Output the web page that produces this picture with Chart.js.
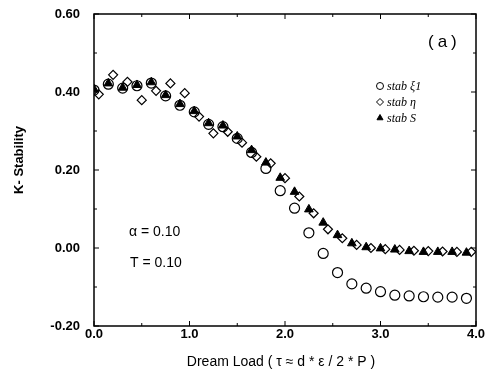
<!DOCTYPE html>
<html>
<head>
<meta charset="utf-8">
<script src="https://cdn.jsdelivr.net/npm/chart.js@4.4.0/dist/chart.umd.min.js"></script>
<style>
html, body { margin: 0; padding: 0; background: #fff; }
</style>
</head>
<body>
<canvas id="myChart" width="487" height="379"></canvas>
<script>
// dream load values (xi1 and S share x, eta sits a bit to the right)
const loadA = [0.00, 0.15, 0.30, 0.45, 0.60, 0.75, 0.90, 1.05, 1.20, 1.35, 1.50, 1.65, 1.80, 1.95,
               2.10, 2.25, 2.40, 2.55, 2.70, 2.85, 3.00, 3.15, 3.30, 3.45, 3.60, 3.75, 3.90];
const loadB = [0.05, 0.20, 0.35, 0.50, 0.65, 0.80, 0.95, 1.10, 1.25, 1.40, 1.55, 1.70, 1.85, 2.00,
               2.15, 2.30, 2.45, 2.60, 2.75, 2.90, 3.05, 3.20, 3.35, 3.50, 3.65, 3.80, 3.95];

const stabXi = [0.405, 0.420, 0.410, 0.416, 0.423, 0.390, 0.366, 0.349, 0.317, 0.311, 0.281, 0.245, 0.204, 0.147,
                0.102, 0.039, -0.014, -0.063, -0.092, -0.103, -0.112, -0.121, -0.123, -0.125, -0.126, -0.126, -0.129];
const stabEta = [0.394, 0.444, 0.426, 0.379, 0.403, 0.422, 0.397, 0.337, 0.294, 0.298, 0.270, 0.234, 0.217, 0.179,
                 0.132, 0.089, 0.048, 0.025, 0.008, 0.000, -0.003, -0.005, -0.007, -0.008, -0.009, -0.010, -0.010];
const stabS = [0.407, 0.422, 0.411, 0.418, 0.425, 0.392, 0.369, 0.351, 0.320, 0.314, 0.286, 0.251, 0.219, 0.180,
               0.144, 0.099, 0.065, 0.033, 0.012, 0.002, -0.001, -0.004, -0.008, -0.010, -0.010, -0.010, -0.012];

const seriesNames = ['stab ξ1', 'stab η', 'stab S'];
const xTicks = [0, 1, 2, 3, 4];
const yTicks = [-0.2, 0, 0.2, 0.4, 0.6];

const toPoints = (xs, ys) => xs.map((x, i) => ({ x: x, y: ys[i] }));

// frame, inward ticks, titles, legend and notes
const decor = {
    id: 'decor',
    afterDraw(chart) {
        const ctx = chart.ctx;
        const a = chart.chartArea;
        const xs = chart.scales.x;
        const ys = chart.scales.y;
        ctx.save();
        ctx.strokeStyle = '#000';
        ctx.lineWidth = 1.5;
        ctx.strokeRect(a.left, a.top, a.right - a.left, a.bottom - a.top);

        ctx.lineWidth = 1;
        ctx.beginPath();
        for (let v = 0; v <= 4.001; v += 0.5) {
            const px = xs.getPixelForValue(v);
            const len = Math.abs(v - Math.round(v)) < 0.01 ? 5 : 3;
            ctx.moveTo(px, a.bottom); ctx.lineTo(px, a.bottom - len);
            ctx.moveTo(px, a.top); ctx.lineTo(px, a.top + len);
        }
        for (let v = -0.2; v <= 0.601; v += 0.1) {
            const py = ys.getPixelForValue(v);
            const major = Math.abs(v * 5 - Math.round(v * 5)) < 0.01;
            const len = major ? 5 : 3;
            ctx.moveTo(a.left, py); ctx.lineTo(a.left + len, py);
            ctx.moveTo(a.right, py); ctx.lineTo(a.right - len, py);
        }
        ctx.stroke();

        ctx.fillStyle = '#000';
        // y title
        ctx.save();
        ctx.translate(19, 160);
        ctx.rotate(-Math.PI / 2);
        ctx.font = 'bold 13px "Liberation Sans", Arial, sans-serif';
        ctx.textAlign = 'center';
        ctx.textBaseline = 'middle';
        ctx.fillText('K- Stability', 0, 0);
        ctx.restore();

        // x title
        ctx.font = '14px "Liberation Sans", Arial, sans-serif';
        ctx.textAlign = 'center';
        ctx.textBaseline = 'middle';
        ctx.fillText('Dream Load ( τ ≈ d * ε / 2 * P )', 281, 362);

        // notes
        ctx.textAlign = 'left';
        ctx.font = '17px "Liberation Sans", Arial, sans-serif';
        ctx.letterSpacing = '4px';
        ctx.fillText('(a)', 428, 42);
        ctx.letterSpacing = '0px';
        ctx.font = '14px "Liberation Sans", Arial, sans-serif';
        ctx.fillText('α = 0.10', 129, 232);
        ctx.fillText('T = 0.10', 130, 263);

        // legend
        const styles = ['circle', 'rectRot', 'triangle'];
        const rows = [86, 102, 118];
        ctx.font = 'italic 12px "Liberation Serif", "Times New Roman", serif';
        for (let i = 0; i < seriesNames.length; i++) {
            ctx.strokeStyle = '#000';
            ctx.fillStyle = i === 2 ? '#000' : 'rgba(0,0,0,0)';
            ctx.lineWidth = 1;
            Chart.helpers.drawPoint(ctx, { pointStyle: styles[i], radius: 3.5, rotation: 0, borderWidth: 1 }, 380, rows[i]);
            ctx.fillStyle = '#000';
            ctx.fillText(seriesNames[i], 387, rows[i] + 1);
        }
        ctx.restore();
    }
};

const ctx = document.getElementById('myChart').getContext('2d');
const myChart = new Chart(ctx, {
    type: 'scatter',
    data: {
        datasets: [
            {
                label: seriesNames[2],
                data: toPoints(loadA, stabS),
                pointStyle: 'triangle',
                pointRadius: 5,
                backgroundColor: '#000',
                borderColor: '#000',
                borderWidth: 1
            },
            {
                label: seriesNames[0],
                data: toPoints(loadA, stabXi),
                pointStyle: 'circle',
                pointRadius: 5,
                backgroundColor: 'rgba(0,0,0,0)',
                borderColor: '#000',
                borderWidth: 1.2
            },
            {
                label: seriesNames[1],
                data: toPoints(loadB, stabEta),
                pointStyle: 'rectRot',
                pointRadius: 4.5,
                backgroundColor: 'rgba(0,0,0,0)',
                borderColor: '#000',
                borderWidth: 1.2
            }
        ]
    },
    options: {
        responsive: false,
        animation: false,
        layout: { padding: { top: 14, right: 11, left: 0, bottom: 0 } },
        plugins: {
            legend: { display: false },
            tooltip: { enabled: false }
        },
        scales: {
            x: {
                type: 'linear',
                min: 0,
                max: 4,
                afterFit: (s) => { s.height = 53; },
                afterBuildTicks: (s) => { s.ticks = xTicks.map(v => ({ value: v })); },
                grid: { display: false, drawTicks: false },
                border: { display: false },
                ticks: {
                    padding: 1,
                    color: '#000',
                    font: { family: '"Liberation Sans", Arial, sans-serif', size: 13, weight: 'bold' },
                    callback: (v) => Number(v).toFixed(1)
                }
            },
            y: {
                type: 'linear',
                min: -0.2,
                max: 0.6,
                afterFit: (s) => { s.width = 94; s.paddingTop = 0; s.paddingBottom = 0; },
                afterBuildTicks: (s) => { s.ticks = yTicks.map(v => ({ value: v })); },
                grid: { display: false, drawTicks: false },
                border: { display: false },
                ticks: {
                    padding: 14,
                    color: '#000',
                    font: { family: '"Liberation Sans", Arial, sans-serif', size: 13, weight: 'bold' },
                    callback: (v) => Number(v).toFixed(2)
                }
            }
        }
    },
    plugins: [decor]
});
</script>
</body>
</html>
